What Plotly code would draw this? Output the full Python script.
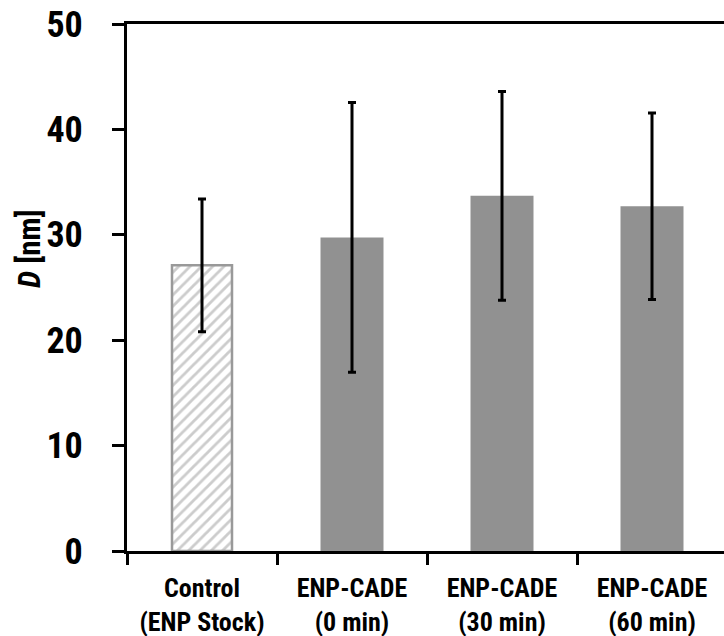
import plotly.graph_objects as go

categories = ["Control<br>(ENP Stock)", "ENP-CADE<br>(0 min)", "ENP-CADE<br>(30 min)", "ENP-CADE<br>(60 min)"]
values = [27.1, 29.75, 33.7, 32.7]
errors = [6.3, 12.8, 9.9, 8.85]
y_ticks = [0, 10, 20, 30, 40, 50]

FONT = "Roboto Condensed, Open Sans Condensed, Liberation Sans, sans-serif"

fig = go.Figure()

# Control (hatched)
fig.add_trace(go.Bar(
    x=[categories[0]], y=[values[0]],
    error_y=dict(type="data", array=[errors[0]], color="black", thickness=3, width=4),
    marker=dict(color="white", line=dict(color="#999999", width=2.5),
                pattern=dict(shape="/", fgcolor="#999999", bgcolor="white", size=8, solidity=0.35)),
    width=0.40, showlegend=False,
))
# Treatments (solid gray)
fig.add_trace(go.Bar(
    x=categories[1:], y=values[1:],
    error_y=dict(type="data", array=errors[1:], color="black", thickness=3, width=4),
    marker=dict(color="#919191", line=dict(width=0)),
    width=0.42, showlegend=False,
))

W, H = 724, 636
ml, mr, mt, mb = 127, 0, 24, 85
pw = W - ml - mr
ph = H - mt - mb

fig.update_layout(
    width=W, height=H,
    margin=dict(l=ml, r=mr, t=mt, b=mb),
    paper_bgcolor="white", plot_bgcolor="white",
    barmode="overlay",
    font=dict(family=FONT, color="black", weight="bold"),
)
fig.update_xaxes(
    type="category", categoryorder="array", categoryarray=categories,
    range=[-0.5, 3.48], automargin=False, tickangle=0,
    showline=True, linecolor="black", linewidth=3, mirror=True,
    ticks="outside", tickson="boundaries", ticklen=11, tickwidth=3, tickcolor="black",
    tickfont=dict(size=26, family=FONT, weight="bold"),
    showgrid=False, zeroline=False,
    ticklabelstandoff=12,
)
fig.update_yaxes(
    range=[0, 50], tickvals=y_ticks, automargin=False,
    showline=True, linecolor="black", linewidth=3,
    ticks="outside", ticklen=12, tickwidth=3, tickcolor="black",
    tickfont=dict(size=36, family=FONT, weight="bold"),
    showgrid=False, zeroline=False,
    ticklabelstandoff=22,
)
fig.add_annotation(
    text="<i>D</i> [nm]", textangle=-90, showarrow=False,
    xref="paper", yref="paper", x=(29 - ml) / pw, y=(H - mb - 249) / ph,
    xanchor="center", yanchor="middle",
    font=dict(size=31, family=FONT, weight="bold", color="black"),
)

fig.write_html("out.html")
